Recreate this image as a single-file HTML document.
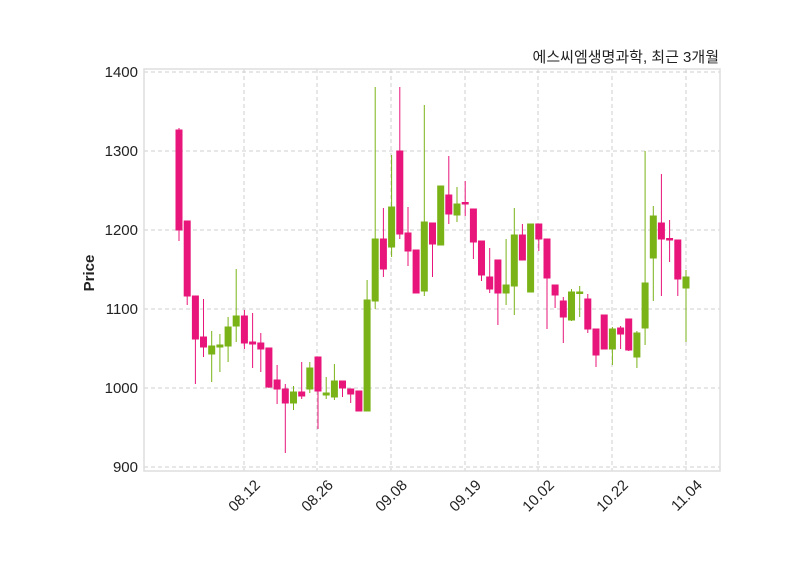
<!DOCTYPE html>
<html><head><meta charset="utf-8"><style>
body{margin:0;background:#fff;}
text{font-family:"Liberation Sans","Noto Sans CJK KR",sans-serif;fill:#222;}
</style></head><body>
<svg width="800" height="575" viewBox="0 0 800 575" xmlns="http://www.w3.org/2000/svg">
<rect width="800" height="575" fill="#fff"/>
<g stroke="#cfcfcf" stroke-width="1" stroke-dasharray="4,3">
<line x1="144" x2="720" y1="72" y2="72"/><line x1="144" x2="720" y1="151" y2="151"/><line x1="144" x2="720" y1="230" y2="230"/><line x1="144" x2="720" y1="309" y2="309"/><line x1="144" x2="720" y1="388" y2="388"/><line x1="144" x2="720" y1="467" y2="467"/>
<line x1="244" x2="244" y1="69" y2="471"/><line x1="317" x2="317" y1="69" y2="471"/><line x1="391" x2="391" y1="69" y2="471"/><line x1="465" x2="465" y1="69" y2="471"/><line x1="538" x2="538" y1="69" y2="471"/><line x1="612" x2="612" y1="69" y2="471"/><line x1="686" x2="686" y1="69" y2="471"/>
</g>
<rect x="144" y="69" width="576" height="402" fill="none" stroke="#ddd" stroke-width="1.5"/>
<g font-size="15" text-anchor="end">
<text x="138" y="77">1400</text><text x="138" y="156">1300</text><text x="138" y="235">1200</text><text x="138" y="314">1100</text><text x="138" y="393">1000</text><text x="138" y="472">900</text>
</g>
<g font-size="15" text-anchor="end">
<text transform="translate(261,486) rotate(-45)">08.12</text>
<text transform="translate(334,486) rotate(-45)">08.26</text>
<text transform="translate(408,486) rotate(-45)">09.08</text>
<text transform="translate(482,486) rotate(-45)">09.19</text>
<text transform="translate(555,486) rotate(-45)">10.02</text>
<text transform="translate(629,486) rotate(-45)">10.22</text>
<text transform="translate(703,486) rotate(-45)">11.04</text>
</g>
<text transform="translate(94,273) rotate(-90)" font-size="15" font-weight="bold" text-anchor="middle">Price</text>
<text x="719" y="62" font-size="15" text-anchor="end">에스씨엠생명과학, 최근 3개월</text>
<g id="r" stroke="#e8157a" fill="#e8157a" stroke-width="1">
<line x1="179" x2="179" y1="128" y2="241"/><rect x="176" y="130" width="6" height="100"/>
<line x1="187.2" x2="187.2" y1="221" y2="305"/><rect x="184.2" y="221" width="6" height="75"/>
<line x1="195.4" x2="195.4" y1="296" y2="384"/><rect x="192.4" y="296" width="6" height="43"/>
<line x1="203.5" x2="203.5" y1="299" y2="357"/><rect x="200.5" y="337" width="6" height="10"/>
<line x1="244.4" x2="244.4" y1="310" y2="349"/><rect x="241.4" y="316" width="6" height="27"/>
<line x1="252.6" x2="252.6" y1="313" y2="368"/><rect x="249.6" y="342" width="6" height="2"/>
<line x1="260.8" x2="260.8" y1="333" y2="372"/><rect x="257.8" y="343" width="6" height="6"/>
<line x1="268.9" x2="268.9" y1="348" y2="388"/><rect x="265.9" y="348" width="6" height="39"/>
<line x1="277.1" x2="277.1" y1="365" y2="404"/><rect x="274.1" y="380" width="6" height="9"/>
<line x1="285.3" x2="285.3" y1="384" y2="453"/><rect x="282.3" y="389" width="6" height="14"/>
<line x1="301.7" x2="301.7" y1="362" y2="399"/><rect x="298.7" y="392" width="6" height="4"/>
<line x1="318" x2="318" y1="357" y2="429"/><rect x="315" y="357" width="6" height="34"/>
<line x1="342.5" x2="342.5" y1="381" y2="397"/><rect x="339.5" y="381" width="6" height="7"/>
<line x1="350.7" x2="350.7" y1="389" y2="403"/><rect x="347.7" y="389" width="6" height="5"/>
<line x1="358.9" x2="358.9" y1="391" y2="411"/><rect x="355.9" y="391" width="6" height="20"/>
<line x1="383.4" x2="383.4" y1="208" y2="277"/><rect x="380.4" y="239" width="6" height="30"/>
<line x1="399.8" x2="399.8" y1="87" y2="239"/><rect x="396.8" y="151" width="6" height="83"/>
<line x1="408" x2="408" y1="207" y2="266"/><rect x="405" y="233" width="6" height="18"/>
<line x1="416.1" x2="416.1" y1="250" y2="293"/><rect x="413.1" y="250" width="6" height="43"/>
<line x1="432.5" x2="432.5" y1="223" y2="277"/><rect x="429.5" y="223" width="6" height="21"/>
<line x1="448.8" x2="448.8" y1="156" y2="224"/><rect x="445.8" y="195" width="6" height="19"/>
<line x1="465.2" x2="465.2" y1="181" y2="216"/><rect x="462.2" y="202.5" width="6" height="1.5"/>
<line x1="473.4" x2="473.4" y1="209" y2="259"/><rect x="470.4" y="209" width="6" height="33"/>
<line x1="481.5" x2="481.5" y1="241" y2="281"/><rect x="478.5" y="241" width="6" height="34"/>
<line x1="489.7" x2="489.7" y1="248" y2="293"/><rect x="486.7" y="277" width="6" height="12"/>
<line x1="497.9" x2="497.9" y1="260" y2="325"/><rect x="494.9" y="260" width="6" height="33"/>
<line x1="522.4" x2="522.4" y1="224" y2="260"/><rect x="519.4" y="235" width="6" height="25"/>
<line x1="538.8" x2="538.8" y1="224" y2="251"/><rect x="535.8" y="224" width="6" height="15"/>
<line x1="547" x2="547" y1="239" y2="329"/><rect x="544" y="239" width="6" height="39"/>
<line x1="555.1" x2="555.1" y1="285" y2="308"/><rect x="552.1" y="285" width="6" height="10"/>
<line x1="563.3" x2="563.3" y1="297" y2="343"/><rect x="560.3" y="301" width="6" height="16"/>
<line x1="587.8" x2="587.8" y1="294" y2="333"/><rect x="584.8" y="299" width="6" height="30"/>
<line x1="596" x2="596" y1="329" y2="367"/><rect x="593" y="329" width="6" height="26"/>
<line x1="604.2" x2="604.2" y1="315" y2="349"/><rect x="601.2" y="315" width="6" height="34"/>
<line x1="620.6" x2="620.6" y1="326" y2="349"/><rect x="617.6" y="328" width="6" height="6"/>
<line x1="628.7" x2="628.7" y1="319" y2="351"/><rect x="625.7" y="319" width="6" height="31"/>
<line x1="661.4" x2="661.4" y1="174" y2="296"/><rect x="658.4" y="223" width="6" height="16"/>
<line x1="669.6" x2="669.6" y1="220" y2="262"/><rect x="666.6" y="238.5" width="6" height="1.5"/>
<line x1="677.8" x2="677.8" y1="240" y2="296"/><rect x="674.8" y="240" width="6" height="39"/>
</g>
<g stroke="#7ab317" fill="#7ab317" stroke-width="1">
<line x1="211.7" x2="211.7" y1="331" y2="382"/><rect x="208.7" y="346" width="6" height="8"/>
<line x1="219.9" x2="219.9" y1="334" y2="372"/><rect x="216.9" y="345" width="6" height="2"/>
<line x1="228.1" x2="228.1" y1="317" y2="362"/><rect x="225.1" y="327" width="6" height="19"/>
<line x1="236.2" x2="236.2" y1="269" y2="342"/><rect x="233.2" y="316" width="6" height="10"/>
<line x1="293.5" x2="293.5" y1="386" y2="410"/><rect x="290.5" y="392" width="6" height="11"/>
<line x1="309.8" x2="309.8" y1="362" y2="393"/><rect x="306.8" y="368" width="6" height="21"/>
<line x1="326.2" x2="326.2" y1="377" y2="399"/><rect x="323.2" y="393" width="6" height="2"/>
<line x1="334.4" x2="334.4" y1="364" y2="400"/><rect x="331.4" y="381" width="6" height="16"/>
<line x1="367.1" x2="367.1" y1="280" y2="411"/><rect x="364.1" y="300" width="6" height="111"/>
<line x1="375.2" x2="375.2" y1="87" y2="309"/><rect x="372.2" y="239" width="6" height="62"/>
<line x1="391.6" x2="391.6" y1="155" y2="257"/><rect x="388.6" y="207" width="6" height="40"/>
<line x1="424.3" x2="424.3" y1="105" y2="296"/><rect x="421.3" y="222" width="6" height="69"/>
<line x1="440.7" x2="440.7" y1="186" y2="245"/><rect x="437.7" y="186" width="6" height="59"/>
<line x1="457" x2="457" y1="187" y2="222"/><rect x="454" y="204" width="6" height="11"/>
<line x1="506.1" x2="506.1" y1="239" y2="305"/><rect x="503.1" y="285" width="6" height="8"/>
<line x1="514.3" x2="514.3" y1="208" y2="315"/><rect x="511.3" y="235" width="6" height="51"/>
<line x1="530.6" x2="530.6" y1="224" y2="292"/><rect x="527.6" y="224" width="6" height="68"/>
<line x1="571.5" x2="571.5" y1="289" y2="321"/><rect x="568.5" y="292" width="6" height="28"/>
<line x1="579.7" x2="579.7" y1="286" y2="317"/><rect x="576.7" y="292" width="6" height="1.5"/>
<line x1="612.4" x2="612.4" y1="327" y2="365"/><rect x="609.4" y="329" width="6" height="20"/>
<line x1="636.9" x2="636.9" y1="331" y2="368"/><rect x="633.9" y="333" width="6" height="24"/>
<line x1="645.1" x2="645.1" y1="151" y2="345"/><rect x="642.1" y="283" width="6" height="45"/>
<line x1="653.3" x2="653.3" y1="206" y2="301"/><rect x="650.3" y="216" width="6" height="42"/>
<line x1="686" x2="686" y1="270" y2="342"/><rect x="683" y="277" width="6" height="11"/>
</g>
</svg>
</body></html>
